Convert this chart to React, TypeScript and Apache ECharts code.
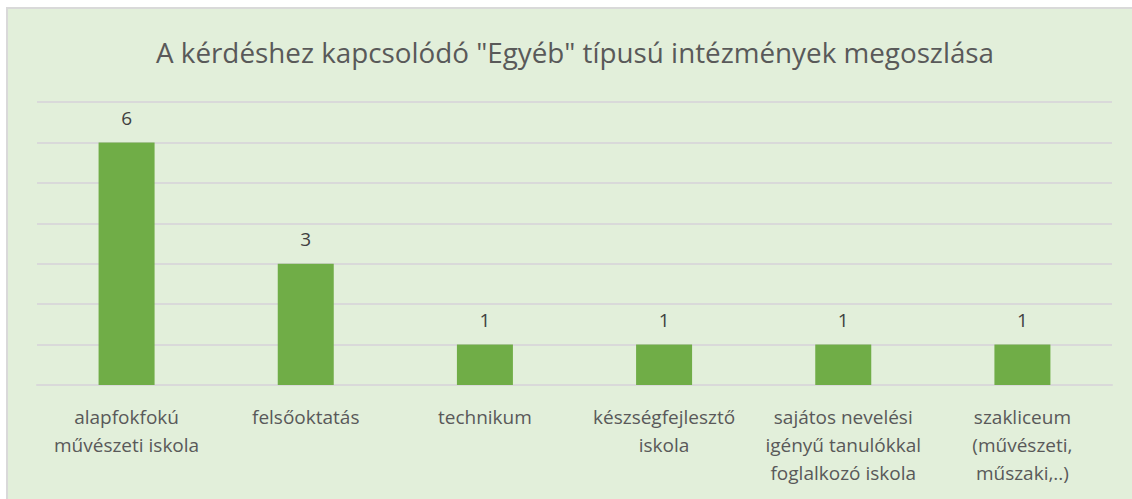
import React, { useEffect, useRef } from "react";
import * as echarts from "echarts";

const titleText = 'A kérdéshez kapcsolódó "Egyéb" típusú intézmények megoszlása';
const categories = [
  "alapfokfokú\nművészeti iskola",
  "felsőoktatás",
  "technikum",
  "készségfejlesztő\niskola",
  "sajátos nevelési\nigényű tanulókkal\nfoglalkozó iskola",
  "szakliceum\n(művészeti,\nműszaki,..)",
];
const values = [6, 3, 1, 1, 1, 1];

const FONT = "Open Sans";

export default function App() {
  const ref = useRef<HTMLDivElement>(null);
  useEffect(() => {
    if (!ref.current) return;
    const chart = echarts.init(ref.current, null, { renderer: "svg" });
    chart.setOption({
      animation: false,
      graphic: [
        {
          type: "rect",
          shape: { x: 7, y: 8, width: 1140, height: 500 },
          style: { fill: "#E2EFDA", stroke: "#D9D9D9", lineWidth: 2 },
          z: -10,
          silent: true,
        },
      ],
      title: {
        text: titleText,
        left: 151,
        top: 33,
        textStyle: {
          fontFamily: FONT,
          fontSize: 27.8,
          fontWeight: "normal",
          color: "#595959",
        },
      },
      grid: { left: 37, right: 20, top: 102, bottom: 114, containLabel: false },
      xAxis: {
        type: "category",
        data: categories,
        axisLine: { show: true, lineStyle: { color: "#D9D9D9", width: 2 } },
        axisTick: { show: false },
        axisLabel: {
          interval: 0,
          margin: 18,
          fontFamily: FONT,
          fontSize: 19,
          lineHeight: 28,
          color: "#595959",
        },
      },
      yAxis: {
        type: "value",
        min: 0,
        max: 7,
        interval: 1,
        axisLabel: { show: false },
        axisLine: { show: false },
        axisTick: { show: false },
        splitLine: { lineStyle: { color: "#D9D9D9", width: 2 } },
      },
      series: [
        {
          type: "bar",
          data: values,
          barWidth: 56,
          itemStyle: { color: "#70AD47" },
          label: {
            show: true,
            position: "top",
            distance: 15,
            fontFamily: FONT,
            fontSize: 19,
            color: "#404040",
          },
        },
      ],
    });
    return () => chart.dispose();
  }, []);
  return (
    <div
      ref={ref}
      style={{ position: "fixed", left: 0, top: 0, width: 1132, height: 499, background: "#fff" }}
    />
  );
}
